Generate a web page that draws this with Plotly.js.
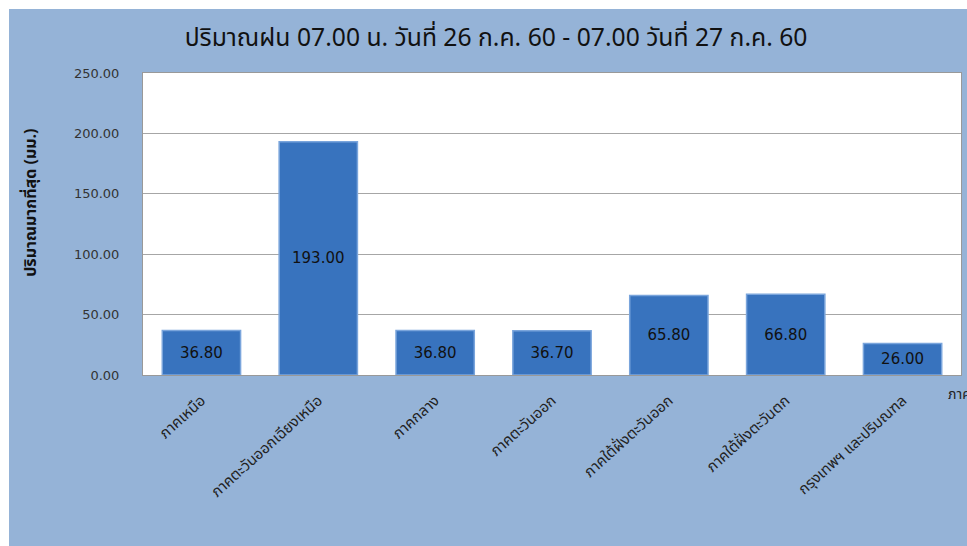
<!DOCTYPE html>
<html>
<head>
<meta charset="utf-8">
<script src="https://cdn.plot.ly/plotly-3.0.1.min.js"></script>
<style>html,body{margin:0;padding:0;background:#fff;}#chart{width:967px;height:546px;}</style>
</head>
<body>
<div id="chart"></div>
<script>
const categories = ['ภาคเหนือ','ภาคตะวันออกเฉียงเหนือ','ภาคกลาง','ภาคตะวันออก','ภาคใต้ฝั่งตะวันออก','ภาคใต้ฝั่งตะวันตก','กรุงเทพฯ และปริมณฑล'];
const rainfall = [36.8, 193.0, 36.8, 36.7, 65.8, 66.8, 26.0];
const yTickValues = [0, 50, 100, 150, 200, 250];
const chartTitle = 'ปริมาณฝน 07.00 น. วันที่ 26 ก.ค. 60 - 07.00 วันที่ 27 ก.ค. 60';
const yTitle = 'ปริมาณมากที่สุด (มม.)';
const strayLabel = 'ภาคใต้';

const thaiFont = '"Noto Sans Thai", Tahoma, Loma, Garuda, "Noto Sans", sans-serif';

const trace = {
  type: 'bar',
  x: categories,
  y: rainfall,
  marker: {color: '#3873BE', line: {color: '#7AA5DC', width: 1.5}},
  texttemplate: '%{y:.2f}',
  textposition: 'inside',
  insidetextanchor: 'middle',
  constraintext: 'none',
  textfont: {family: 'DejaVu Sans, Verdana, sans-serif', size: 15, color: '#111'},
  hoverinfo: 'x+y'
};

const layout = {
  width: 967, height: 546,
  margin: {l: 143, r: 6, t: 73, b: 171},
  paper_bgcolor: '#95B3D7',
  plot_bgcolor: '#FFFFFF',
  bargap: 0.33,
  showlegend: false,
  title: {
    text: chartTitle,
    font: {family: thaiFont, size: 24.7, color: '#111'},
    xref: 'container', x: 0.513, xanchor: 'center',
    yref: 'container', y: 0.932, yanchor: 'middle'
  },
  xaxis: {
    type: 'category',
    tickangle: -42,
    tickfont: {family: thaiFont, size: 15, color: '#222'},
    showline: true, mirror: true, linecolor: '#999', linewidth: 1,
    ticks: '', ticklabelstandoff: 10,
    range: [-0.5, 6.5]
  },
  yaxis: {
    range: [0, 250],
    tickvals: yTickValues,
    tickformat: '.2f',
    tickfont: {family: 'DejaVu Sans, Verdana, sans-serif', size: 13, color: '#333'},
    showgrid: true, gridcolor: '#A6A6A6', gridwidth: 1,
    showline: true, mirror: true, linecolor: '#999', linewidth: 1,
    zeroline: false, ticks: '', ticklabelstandoff: 20
  },
  shapes: [
    {type: 'rect', xref: 'paper', yref: 'paper', x0: -0.2, x1: 1.02, y0: 1.2119, y1: 1.3, fillcolor: '#FFFFFF', line: {width: 0}, layer: 'above'},
    {type: 'rect', xref: 'paper', yref: 'paper', x0: -0.2, x1: -0.1638, y0: -0.6, y1: 1.3, fillcolor: '#FFFFFF', line: {width: 0}, layer: 'above'}
  ],
  annotations: [
    {text: '<b>' + yTitle + '</b>', xref: 'paper', yref: 'paper', x: -0.137, y: 0.57, textangle: -90, showarrow: false,
     font: {family: thaiFont, size: 16, color: '#111'}, xanchor: 'center', yanchor: 'middle'},
    {text: strayLabel, xref: 'paper', yref: 'paper', x: 0.9817, y: -0.066, showarrow: false,
     font: {family: thaiFont, size: 14, color: '#222'}, xanchor: 'left', yanchor: 'middle'}
  ]
};

Plotly.newPlot('chart', [trace], layout, {displayModeBar: false, staticPlot: true});
</script>
</body>
</html>
